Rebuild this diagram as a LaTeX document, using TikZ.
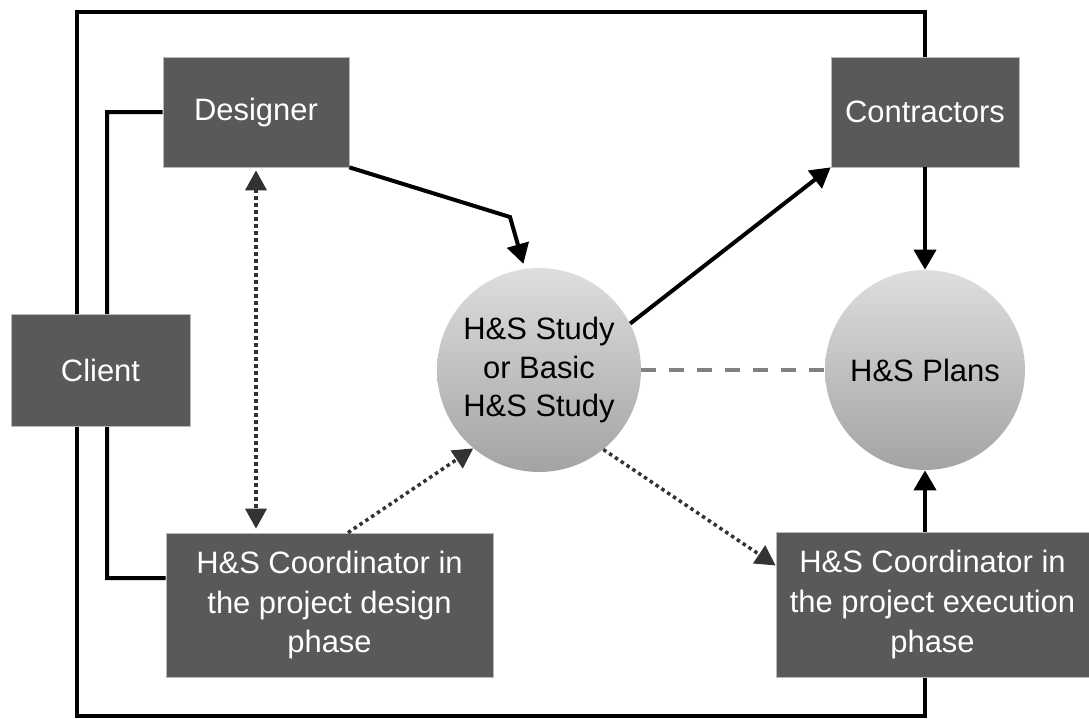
\documentclass[tikz,border=0pt]{standalone}
\usepackage{fontspec}
\setmainfont{Liberation Sans}
\usetikzlibrary{arrows.meta,positioning,calc,backgrounds}
\tikzset{
  box/.style={draw=gray!55, line width=0.4pt, fill=black!65, text=white,
              inner sep=0pt, align=center, font=\fontsize{17.6}{22.6}\selectfont},
  bubble/.style={circle, inner sep=0pt, minimum size=#1, align=center,
                 top color=black!13, bottom color=black!36,
                 font=\fontsize{17.6}{21.8}\selectfont},
  arrow/.style={-{Triangle[length=0.4cm,width=0.44cm]}, line width=0.08cm},
  dotarrow/.style={-{Triangle[length=0.4cm,width=0.42cm]}, draw=black!80,
                   line width=0.07cm, dash pattern=on 0.07cm off 0.07cm},
  link/.style={line width=0.08cm},
  gapline/.style={draw=black!50, line width=0.08cm, dash pattern=on 0.3cm off 0.26cm}
}

\begin{document}
\begin{tikzpicture}[x=0.02cm, y=-0.02cm]
  \useasboundingbox (0,0) rectangle (1089,718);
  % parties
  \node[box, minimum width=3.72cm, minimum height=2.2cm] (designer) at (256,112) {Designer};
  \node[box, minimum width=3.76cm, minimum height=2.2cm] (contractors) at (925,112) {Contractors};
  \node[box, minimum width=6.54cm, minimum height=2.88cm] (designcoord) at (329.5,605)
    {H\&S Coordinator in\\the project design\\phase};
  \node[box, minimum width=6.26cm, minimum height=2.9cm] (execcoord) at (932.5,604.5)
    {H\&S Coordinator in\\the project execution\\phase};
  % documents
  \node[bubble=4.08cm] (study) at (539,370) {H\&S Study\\or Basic\\H\&S Study};
  \node[bubble=4.0cm] (plans) at (925,370) {H\&S Plans};
  \coordinate (bend) at (510,217);

  \begin{scope}[on background layer]
    \draw[link] (contractors.north) |- (77,12) -- (77,716) -| (plans.south |- execcoord.south);
    \draw[link] (designer.west) -- (107,112) -- (107,578) -- ([yshift=0.54cm]designcoord.west);
  \end{scope}
  \node[box, minimum width=3.58cm, minimum height=2.24cm] (client) at (100.5,370) {Client};

  \draw[arrow, shorten >=0.1cm] (designer.south east) -- (bend) -- (study.98);
  \draw[arrow] (study.27) -- (contractors.south west);
  \draw[arrow] (contractors.south) -- (plans.north);
  \draw[arrow] (plans.south |- execcoord.north) -- (plans.south);
  \draw[gapline] (study.east) -- (plans.west);
  \draw[dotarrow, {Triangle[length=0.4cm,width=0.42cm]}-{Triangle[length=0.4cm,width=0.42cm]},
        shorten <=0.06cm, shorten >=0.08cm]
    (designer.south) -- (designer.south |- designcoord.north);
  \draw[dotarrow] ([xshift=0.37cm]designcoord.north) -- (study.230);
  \draw[dotarrow] (study.-51) -- ([yshift=0.78cm]execcoord.west);
\end{tikzpicture}
\end{document}
